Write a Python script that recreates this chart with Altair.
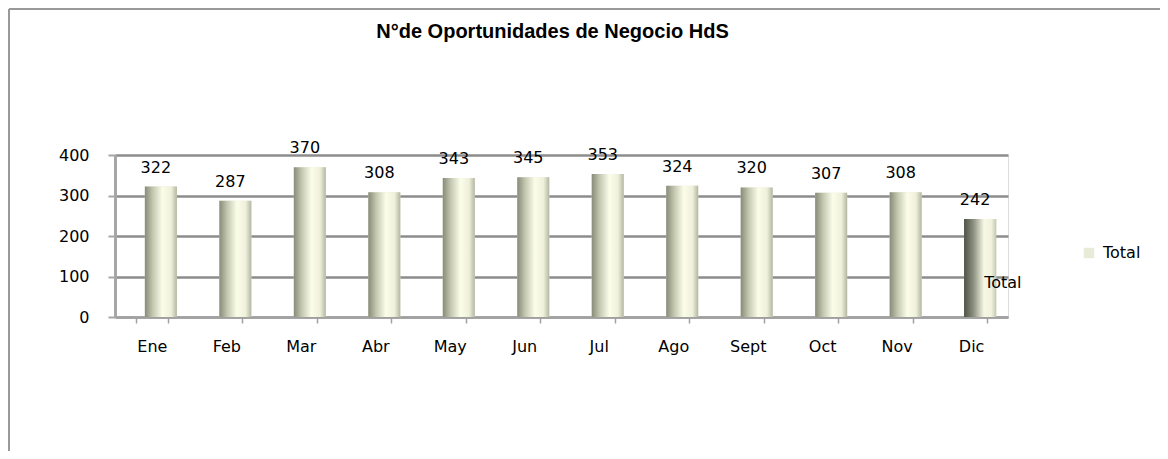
import altair as alt
import pandas as pd

meses = ["Ene", "Feb", "Mar", "Abr", "May", "Jun", "Jul", "Ago", "Sept", "Oct", "Nov", "Dic"]
totales = [322, 287, 370, 308, 343, 345, 353, 324, 320, 307, 308, 242]
serie = ["Total"] * len(meses)
y_ticks = [0, 100, 200, 300, 400]

df = pd.DataFrame({"mes": meses, "total": totales, "serie": serie})

FONT = "DejaVu Sans"
FS = 16

x_enc = alt.X("mes:N", sort=meses,
              scale=alt.Scale(paddingInner=0.57, paddingOuter=0.28),
              axis=alt.Axis(title=None, labelAngle=0, labelFont=FONT, labelFontSize=FS,
                            labelColor="#000000", labelPadding=15, tickBand="extent",
                            domainColor="#a0a0a0", domainWidth=1.5, tickColor="#a0a0a0",
                            tickSize=6, tickWidth=1.5, grid=False))
y_enc = alt.Y("total:Q", scale=alt.Scale(domain=[0, 400]),
              axis=alt.Axis(title=None, values=y_ticks, labelFont=FONT, labelFontSize=FS,
                            labelColor="#000000", labelPadding=19, domainColor="#a6a6a6",
                            domainWidth=3, tickColor="#a6a6a6", tickSize=7, tickWidth=2,
                            gridColor="#8c8c8c", gridWidth=2.5))

base = alt.Chart(df)

legend_bars = base.mark_bar(xOffset=9).encode(
    x=x_enc, y=y_enc,
    color=alt.Color("serie:N", scale=alt.Scale(range=["#e8ebd8"]),
                    legend=alt.Legend(title=None, orient="none", legendX=966, legendY=90,
                                      symbolType="square", symbolSize=110, symbolStrokeWidth=0,
                                      labelFont=FONT, labelFontSize=FS, labelColor="#000000",
                                      padding=0, labelOffset=6))
)

grad = alt.Gradient(gradient="linear", x1=0, x2=1, y1=0, y2=0, stops=[
    alt.GradientStop(offset=0.0, color="#878b78"),
    alt.GradientStop(offset=0.25, color="#c4c8b0"),
    alt.GradientStop(offset=0.55, color="#fbfde9"),
    alt.GradientStop(offset=0.82, color="#eef0da"),
    alt.GradientStop(offset=1.0, color="#b3b7a2"),
])
grad_dark = alt.Gradient(gradient="linear", x1=0, x2=1, y1=0, y2=0, stops=[
    alt.GradientStop(offset=0.0, color="#4f5346"),
    alt.GradientStop(offset=0.3, color="#8e9282"),
    alt.GradientStop(offset=0.62, color="#f6f8e4"),
    alt.GradientStop(offset=0.85, color="#f0f2dc"),
    alt.GradientStop(offset=1.0, color="#c4c8b2"),
])

bars = base.mark_bar(color=grad, xOffset=9).encode(x=x_enc, y=y_enc)
bar_last = base.transform_filter(alt.datum.mes == meses[-1]).mark_bar(
    color=grad_dark, xOffset=9).encode(x=x_enc, y=y_enc)

labels = base.mark_text(baseline="bottom", dy=-11, dx=4, font=FONT, fontSize=FS,
                        color="#000000").encode(
    x=alt.X("mes:N", sort=meses), y="total:Q", text="total:Q")

depth_label = alt.Chart(alt.Data(values=[{"mes": "Dic", "v": 84, "t": "Total"}])).mark_text(
    align="left", baseline="middle", dx=13, font=FONT, fontSize=FS, color="#000000"
).encode(x=alt.X("mes:N", sort=meses), y="v:Q", text="t:N")

frame = alt.Chart(alt.Data(values=[{"k": 1}]))
border_left = frame.mark_rule(color="#999999", strokeWidth=2).encode(
    x=alt.value(-106), y=alt.value(-146), y2=alt.value(300))
border_top = frame.mark_rule(color="#999999", strokeWidth=2).encode(
    x=alt.value(-106), x2=alt.value(1045), y=alt.value(-146))

chart = alt.layer(legend_bars, bars, bar_last, labels, depth_label, border_left, border_top).properties(
    width=893, height=162,
    title=alt.Title("N°de Oportunidades de Negocio HdS", font="Liberation Sans", fontSize=20,
                    fontWeight="bold", color="#000000", anchor="middle", offset=-34, dx=-9),
    autosize=alt.AutoSizeParams(type="none"),
    padding={"left": 107, "top": 147, "right": 152, "bottom": 134},
).configure_view(stroke=None).configure(background="white")

chart.save("out.html", embed_options={"renderer": "svg", "actions": False})
